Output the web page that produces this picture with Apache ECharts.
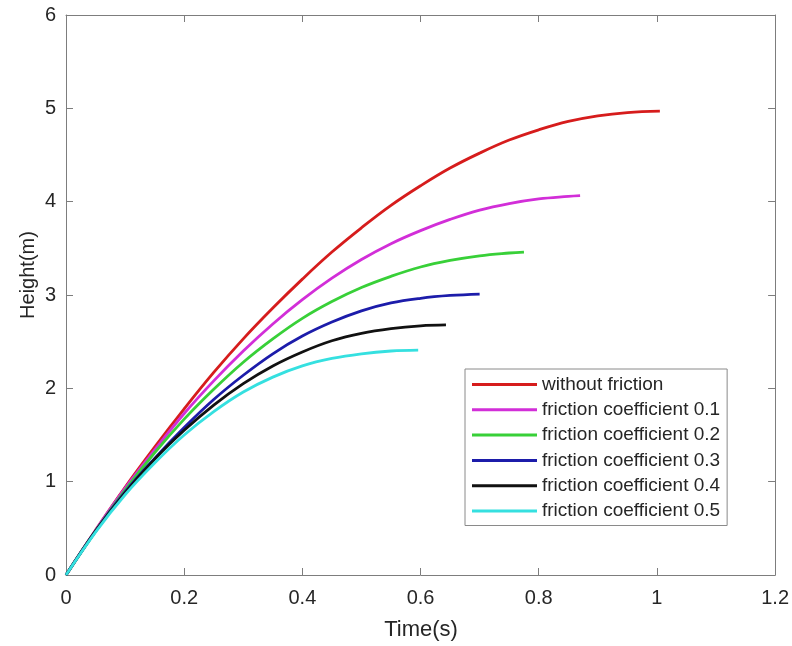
<!DOCTYPE html>
<html>
<head>
<meta charset="utf-8">
<script src="https://cdn.jsdelivr.net/npm/echarts@6/dist/echarts.min.js"></script>
<style>
  html, body { margin: 0; padding: 0; background: #ffffff; }
  #chart { width: 792px; height: 646px; }
</style>
</head>
<body>
<div id="chart"></div>
<script>
// Height of a thrown body against time, with and without friction.
const seriesNames = [
  'without friction',
  'friction coefficient 0.1',
  'friction coefficient 0.2',
  'friction coefficient 0.3',
  'friction coefficient 0.4',
  'friction coefficient 0.5'
];
const seriesColors = ['#d61c1c', '#d22ed8', '#38d038', '#1c1caa', '#111111', '#35e0e0'];

// [time (s), height (m)]
const noFriction = [[0,0],[0.05,0.48],[0.1,0.94],[0.15,1.37],[0.2,1.78],[0.25,2.17],[0.3,2.53],[0.35,2.86],[0.4,3.17],[0.45,3.46],[0.5,3.72],[0.55,3.96],[0.6,4.17],[0.65,4.36],[0.7,4.52],[0.75,4.66],[0.8,4.77],[0.85,4.86],[0.9,4.92],[0.95,4.955],[1.005,4.97]];
const friction01 = [[0,0],[0.05,0.48],[0.1,0.93],[0.15,1.34],[0.2,1.73],[0.25,2.08],[0.3,2.40],[0.35,2.69],[0.4,2.95],[0.45,3.18],[0.5,3.38],[0.55,3.55],[0.6,3.69],[0.65,3.81],[0.7,3.91],[0.75,3.98],[0.8,4.03],[0.85,4.057],[0.87,4.065]];
const friction02 = [[0,0],[0.05,0.47],[0.1,0.91],[0.15,1.31],[0.2,1.67],[0.25,1.99],[0.3,2.28],[0.35,2.53],[0.4,2.75],[0.45,2.93],[0.5,3.08],[0.55,3.20],[0.6,3.30],[0.65,3.37],[0.7,3.42],[0.75,3.45],[0.775,3.46]];
const friction03 = [[0,0],[0.05,0.47],[0.1,0.89],[0.15,1.25],[0.2,1.58],[0.25,1.88],[0.3,2.14],[0.35,2.37],[0.4,2.56],[0.45,2.71],[0.5,2.83],[0.55,2.915],[0.6,2.965],[0.65,2.995],[0.7,3.01]];
const friction04 = [[0,0],[0.05,0.47],[0.1,0.88],[0.15,1.24],[0.2,1.55],[0.25,1.82],[0.3,2.05],[0.35,2.24],[0.4,2.39],[0.45,2.51],[0.5,2.59],[0.55,2.64],[0.6,2.67],[0.643,2.68]];
const friction05 = [[0,0],[0.05,0.46],[0.1,0.86],[0.15,1.20],[0.2,1.50],[0.25,1.75],[0.3,1.96],[0.35,2.12],[0.4,2.24],[0.45,2.32],[0.5,2.37],[0.55,2.40],[0.596,2.41]];

const seriesData = [noFriction, friction01, friction02, friction03, friction04, friction05];

// Axis ticks
const xTicks = [0, 0.2, 0.4, 0.6, 0.8, 1, 1.2];
const yTicks = [0, 1, 2, 3, 4, 5, 6];

const axisGray = '#7d7d7d';
const textColor = '#262626';
const fontFamily = '"Liberation Sans", Arial, Helvetica, sans-serif';

function boxAxis(ticks, position, showLabels, margin) {
  return {
    type: 'value',
    position: position,
    min: ticks[0],
    max: ticks[ticks.length - 1],
    interval: ticks[1] - ticks[0],
    axisLine: { show: true, onZero: false, lineStyle: { color: axisGray, width: 1 } },
    axisTick: { show: true, inside: true, length: 7, lineStyle: { color: axisGray, width: 1 } },
    axisLabel: {
      show: showLabels,
      margin: margin,
      color: textColor,
      fontSize: 20,
      fontFamily: fontFamily,
      formatter: v => String(+v.toFixed(2))
    },
    splitLine: { show: false }
  };
}

const chart = echarts.init(document.getElementById('chart'), null, { renderer: 'canvas' });

chart.setOption({
  backgroundColor: '#ffffff',
  animation: false,
  grid: { left: 66, right: 16, top: 15, bottom: 71, containLabel: false },
  xAxis: [boxAxis(xTicks, 'bottom', true, 13), boxAxis(xTicks, 'top', false, 8)],
  yAxis: [boxAxis(yTicks, 'left', true, 10), boxAxis(yTicks, 'right', false, 8)],
  legend: {
    orient: 'vertical',
    left: 465,
    top: 369,
    padding: [3, 7, 2, 7],
    itemGap: 0.3,
    itemWidth: 65,
    itemHeight: 3,
    icon: 'rect',
    backgroundColor: '#ffffff',
    borderColor: '#8a8a8a',
    borderWidth: 1,
    textStyle: { color: textColor, fontSize: 19, lineHeight: 25, fontFamily: fontFamily },
    data: seriesNames
  },
  graphic: [
    {
      type: 'text',
      x: 421, y: 630,
      style: {
        text: 'Time(s)', fill: textColor, font: '22px ' + fontFamily,
        textAlign: 'center', textVerticalAlign: 'middle'
      }
    },
    {
      type: 'text',
      x: 28, y: 275, rotation: Math.PI / 2,
      style: {
        text: 'Height(m)', fill: textColor, font: '20px ' + fontFamily,
        textAlign: 'center', textVerticalAlign: 'middle'
      }
    }
  ],
  series: seriesNames.map((name, i) => ({
    name: name,
    type: 'line',
    xAxisIndex: 0,
    yAxisIndex: 0,
    data: seriesData[i],
    smooth: 0.4,
    symbol: 'none',
    clip: false,
    lineStyle: { color: seriesColors[i], width: 2.8 },
    itemStyle: { color: seriesColors[i] },
    z: 2 + i
  }))
});
</script>
</body>
</html>
